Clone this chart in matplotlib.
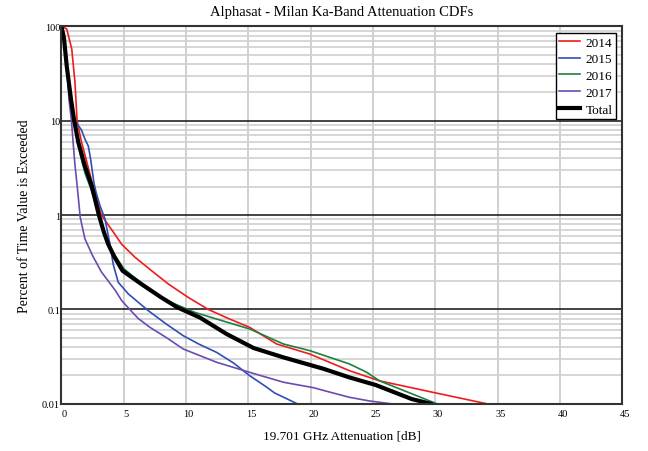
import matplotlib
matplotlib.use("Agg")
import matplotlib.pyplot as plt
from matplotlib.ticker import FixedLocator, NullFormatter
from matplotlib.transforms import ScaledTranslation

plt.rcParams['font.family'] = ['Liberation Serif', 'DejaVu Serif']

x_2014 = [0, 0.2, 0.42, 0.82, 1.08, 1.25, 1.6, 2.0, 2.5, 3.2, 3.7, 4.16, 4.83, 5.9, 7.23, 8.57,
          10.17, 11.77, 13.4, 15.1, 17.26, 19.93, 23.1, 25.5, 29.8, 34.1]
p_2014 = [100, 98, 94, 58, 25.6, 10, 6.0, 3.8, 2.1, 1.0, 0.805, 0.66, 0.49, 0.357, 0.257, 0.186,
          0.134, 0.10, 0.08, 0.0645, 0.043, 0.0336, 0.0224, 0.0175, 0.0132, 0.01]

x_2015 = [0, 0.2, 0.42, 0.76, 1.05, 1.35, 1.6, 1.88, 2.15, 2.34, 2.6, 2.77, 3.09, 3.49, 3.89, 4.15,
          4.55, 5.36, 6.96, 8.4, 9.77, 11.0, 12.45, 13.8, 15.1, 16.3, 17.1, 18.9]
p_2015 = [100, 75, 38, 17, 10, 8.9, 8.0, 6.4, 5.4, 3.9, 2.2, 1.75, 1.26, 0.91, 0.49, 0.30,
          0.194, 0.146, 0.097, 0.07, 0.0526, 0.043, 0.035, 0.027, 0.0198, 0.0155, 0.013, 0.01]

x_2016 = [0, 0.2, 0.42, 0.76, 1.02, 1.35, 1.54, 1.88, 2.42, 3.0, 3.4, 3.8, 4.3, 5.0, 6.43, 8.0,
          8.7, 10.7, 12.45, 15.1, 17.8, 19.93, 23.1, 24.5, 25.5, 30.1]
p_2016 = [100, 75, 38, 17, 10, 5.4, 4.2, 2.8, 1.8, 1.0, 0.68, 0.48, 0.37, 0.27, 0.188, 0.136,
          0.12, 0.093, 0.079, 0.062, 0.043, 0.0365, 0.0264, 0.0215, 0.0175, 0.01]

x_2017 = [0, 0.2, 0.42, 0.6, 0.8, 0.95, 1.08, 1.3, 1.5, 1.88, 2.5, 3.2, 3.75, 4.3, 4.83, 5.63,
          6.16, 7.1, 8.44, 9.77, 12.45, 15.1, 17.8, 20.2, 21.5, 23.1, 24.7, 26.4]
p_2017 = [100, 75, 38, 17, 10, 5.5, 3.4, 1.8, 0.95, 0.56, 0.37, 0.25, 0.20, 0.16, 0.124, 0.095,
          0.08, 0.0645, 0.05, 0.038, 0.0275, 0.0215, 0.0169, 0.0148, 0.0133, 0.0117, 0.0107, 0.01]

x_total = [0, 0.2, 0.42, 0.76, 1.02, 1.35, 1.54, 1.88, 2.42, 3.0, 3.4, 3.75, 4.25, 4.9, 6.4, 8.0,
           9.3, 11.1, 13.25, 15.4, 17.8, 21.0, 23.1, 25.2, 28.1, 29.6]
p_total = [100, 75, 38, 17, 10, 5.9, 4.8, 3.3, 2.05, 1.0, 0.66, 0.49, 0.36, 0.257, 0.186, 0.134,
           0.105, 0.082, 0.0548, 0.039, 0.031, 0.0235, 0.019, 0.0158, 0.0112, 0.01]

series_labels = ['2014', '2015', '2016', '2017', 'Total']
y_ticks = [0.01, 0.1, 1, 10, 100]
y_tick_labels = ['0.01', '0.1', '1', '10', '100']
x_ticks = [0, 5, 10, 15, 20, 25, 30, 35, 40, 45]

fig = plt.figure(figsize=(6.48, 4.52), dpi=100)
ax = fig.add_axes([0.0949, 0.1046, 0.8657, 0.8346])

ax.set_yscale('log')
ax.set_xlim(0, 45)
ax.set_ylim(0.01, 100)

minor = [m * 10.0 ** e for e in range(-2, 2) for m in range(2, 10)]
ax.yaxis.set_minor_locator(FixedLocator(minor))
ax.yaxis.set_minor_formatter(NullFormatter())
ax.yaxis.set_major_locator(FixedLocator(y_ticks))
ax.set_yticklabels(y_tick_labels)
ax.set_xticks(x_ticks)
ax.grid(which='minor', axis='y', color='#d0d0d0', lw=1.2)
ax.grid(which='major', axis='x', color='#c8c8c8', lw=1.2)
ax.grid(which='major', axis='y', color='#111111', lw=1.1)
ax.set_axisbelow(True)

ax.plot(x_2014, p_2014, color='#ee1c1c', lw=1.2, label=series_labels[0])
ax.plot(x_2015, p_2015, color='#2f4fb5', lw=1.2, label=series_labels[1])
ax.plot(x_2016, p_2016, color='#1d8040', lw=1.2, label=series_labels[2])
ax.plot(x_2017, p_2017, color='#6a4cb0', lw=1.2, label=series_labels[3])
ax.plot(x_total, p_total, color='black', lw=3.0, label=series_labels[4])

for s in ax.spines.values():
    s.set_color('#333333')
    s.set_linewidth(1.5)

ax.tick_params(which='both', length=0, labelsize=7.5, pad=1)
ax.tick_params(axis='x', pad=4)
offset = ScaledTranslation(2.5 / 100, 0, fig.dpi_scale_trans)
for lbl in ax.xaxis.get_majorticklabels():
    lbl.set_transform(lbl.get_transform() + offset)

ax.set_title('Alphasat - Milan Ka-Band Attenuation CDFs', fontsize=10.5, pad=8)
ax.set_xlabel('19.701 GHz Attenuation [dB]', fontsize=9.5, labelpad=8)
ax.set_ylabel('Percent of Time Value is Exceeded', fontsize=10, labelpad=8)

leg = ax.legend(loc='upper right', fontsize=9.5, frameon=True, fancybox=False,
                edgecolor='black', framealpha=1, handlelength=1.6, handletextpad=0.4,
                borderpad=0.25, labelspacing=0.34, borderaxespad=0.5)
leg.get_frame().set_linewidth(1.0)

fig.savefig('out.png', dpi=100)
